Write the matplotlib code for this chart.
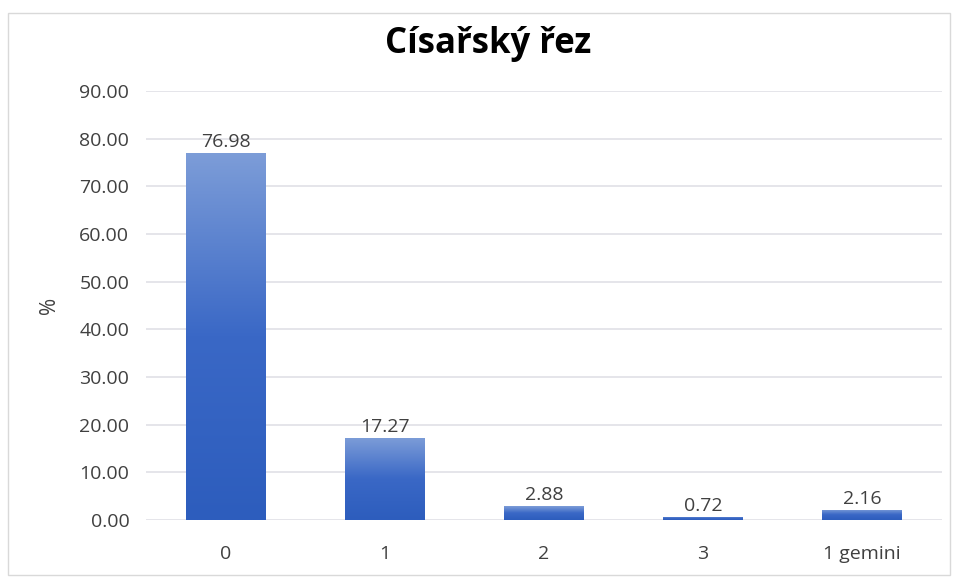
import numpy as np
import matplotlib.pyplot as plt
from matplotlib.patches import Rectangle
from matplotlib.colors import LinearSegmentedColormap

# data
categories = ['0', '1', '2', '3', '1 gemini']
values = [76.98, 17.27, 2.88, 0.72, 2.16]
yticks = [0, 10, 20, 30, 40, 50, 60, 70, 80, 90]

plt.rcParams['font.family'] = ['Open Sans', 'DejaVu Sans']
text_color = '#404040'
fs = 14

fig = plt.figure(figsize=(9.55, 5.81), dpi=100)
ax = fig.add_axes([0.1529, 0.105, 0.833, 0.7386])

# outer chart border
fig.patches.append(Rectangle((8 / 955, 6 / 581), 942 / 955, 562 / 581,
                             transform=fig.transFigure, fill=False,
                             edgecolor='#d9d9d9', lw=1))

cmap = LinearSegmentedColormap.from_list('grad', ['#2d5dbd', '#3a68c6', '#7d9dd8'])
grad = np.linspace(0, 1, 256).reshape(-1, 1)

x = np.arange(len(categories))
bars = ax.bar(x, values, width=0.5, color='#3a68c6', zorder=2)
for b, v in zip(bars, values):
    x0 = b.get_x()
    w = b.get_width()
    im = ax.imshow(grad, cmap=cmap, aspect='auto', origin='lower',
                   extent=[x0, x0 + w, 0, v], zorder=3)
    im.set_clip_path(b)
    ax.text(b.get_x() + w / 2, v + 0.4, f'{v:.2f}', ha='center', va='bottom',
            fontsize=fs, color=text_color, zorder=4)

ax.set_xlim(-0.5, len(categories) - 0.5)
ax.set_ylim(0, 90)
ax.set_yticks(yticks)
ax.set_yticklabels([f'{t:.2f}' for t in yticks], fontsize=fs, color=text_color)
ax.set_xticks(x)
ax.set_xticklabels(categories, fontsize=fs, color=text_color)
ax.tick_params(length=0)
ax.tick_params(axis='x', pad=18)
ax.tick_params(axis='y', pad=12)
ax.grid(axis='y', color='#e0e0e6', lw=1.2, zorder=0)
ax.set_axisbelow(True)
for s in ax.spines.values():
    s.set_visible(False)

ax.set_ylabel('%', fontsize=15, color=text_color, labelpad=14)
fig.text(0.511, 0.925, 'Císařský řez', ha='center', va='center',
         fontsize=25, fontweight='bold', color='#000000')

fig.savefig('out.png', dpi=100)
